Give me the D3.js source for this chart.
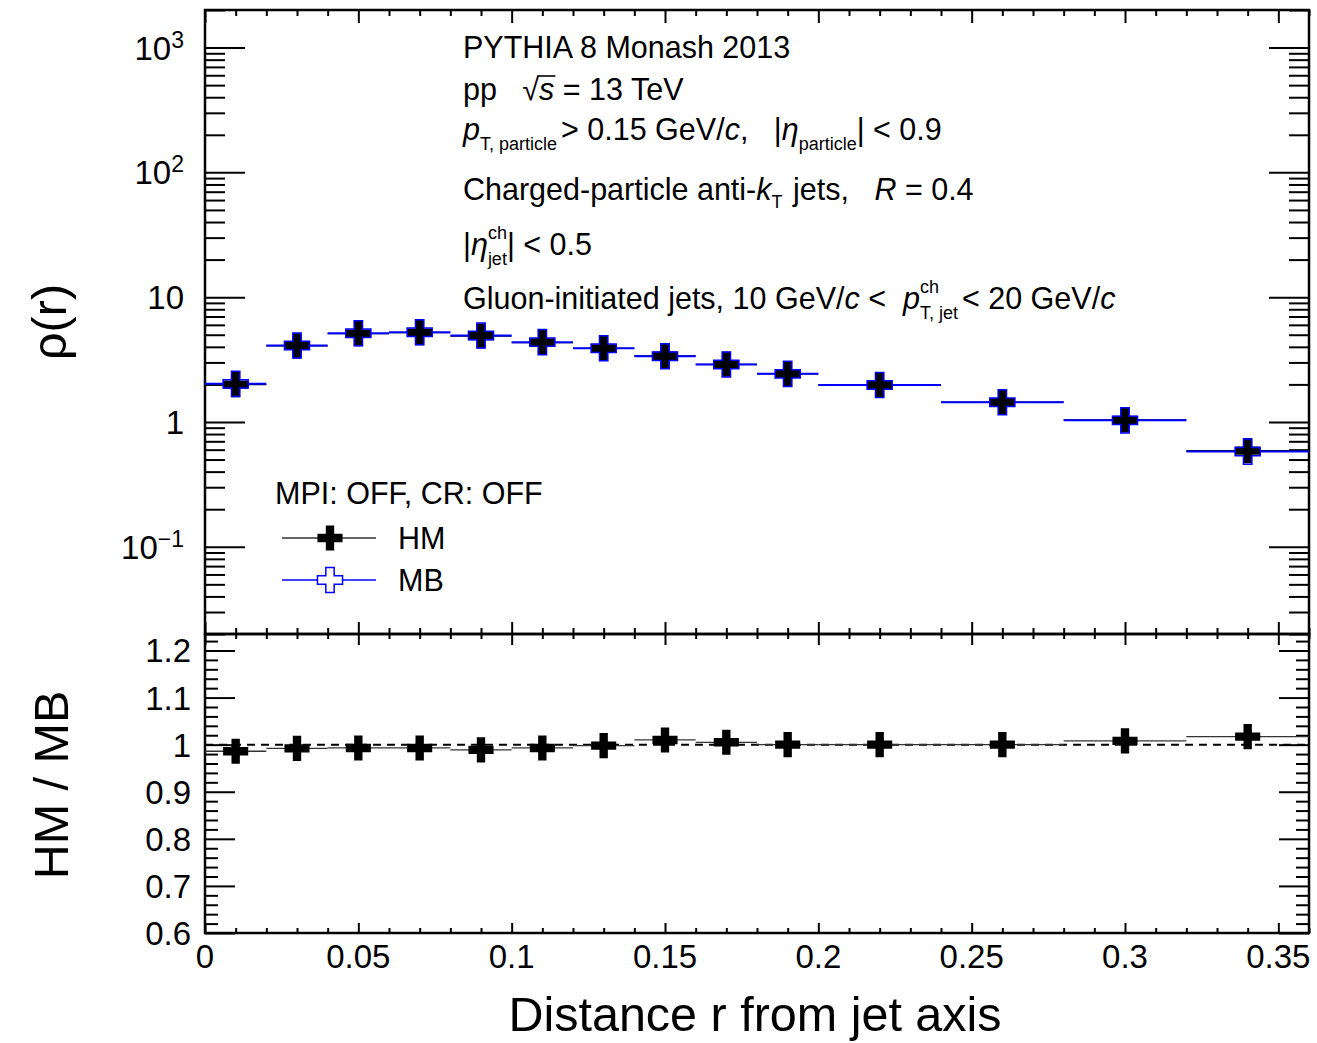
<!DOCTYPE html>
<html>
<head>
<meta charset="utf-8">
<script src="https://cdn.jsdelivr.net/npm/d3@7"></script>
<style>
  html, body { margin: 0; padding: 0; background: #fff; }
  svg { display: block; font-family: "Liberation Sans", Arial, Helvetica, sans-serif; }
  text { white-space: pre; fill: #000; }
</style>
</head>
<body>
<svg id="chart" width="1317" height="1043"></svg>
<script>
// Bin edges in r (distance from jet axis)
const binLow  = [0.00, 0.02, 0.04, 0.06, 0.08, 0.10, 0.12, 0.14, 0.16, 0.18, 0.20, 0.24, 0.28, 0.32];
const binHigh = [0.02, 0.04, 0.06, 0.08, 0.10, 0.12, 0.14, 0.16, 0.18, 0.20, 0.24, 0.28, 0.32, 0.36];

// rho(r) for minimum-bias (MB) and high-multiplicity (HM) events
const rhoMB = [2.02, 4.10, 5.14, 5.24, 4.93, 4.36, 3.90, 3.36, 2.89, 2.43, 1.98, 1.44, 1.03, 0.579];
const rhoHM = [1.99, 4.07, 5.10, 5.20, 4.88, 4.33, 3.89, 3.39, 2.90, 2.43, 1.98, 1.44, 1.04, 0.589];

// HM / MB ratio per bin
const ratioHMMB = [0.986, 0.992, 0.993, 0.993, 0.989, 0.993, 0.998, 1.010, 1.005, 1.000, 1.000, 1.000, 1.008, 1.017];

// Axis tick labels
const xTickLabels = ["0", "0.05", "0.1", "0.15", "0.2", "0.25", "0.3", "0.35"];
const xTickValues = [0, 0.05, 0.1, 0.15, 0.2, 0.25, 0.3, 0.35];
const logTickValues = [0.1, 1, 10, 100, 1000];
const logTickBase = ["10", "1", "10", "10", "10"];
const logTickExp  = ["\u22121", "", "", "2", "3"];
const ratioTickValues = [0.6, 0.7, 0.8, 0.9, 1.0, 1.1, 1.2];
const ratioTickLabels = ["0.6", "0.7", "0.8", "0.9", "1", "1.1", "1.2"];

const svg = d3.select("#chart");

// Panel geometry
const left = 205, right = 1309;
const topY0 = 10, topY1 = 634;     // upper panel
const ratY0 = 634, ratY1 = 933;    // ratio panel

const x = d3.scaleLinear().domain([0, 0.36]).range([left, right]);
const yTop = d3.scaleLog().domain([0.02, 2000]).range([topY1, topY0]);
const yRat = d3.scaleLinear().domain([0.6, 1.235]).range([ratY1, ratY0]);

const BLUE = "#0000ff";
const TICK_FS = 33, TEXT_FS = 30.5, TITLE_FS = 48.5;

// ---- tick helpers ----
function ticks(axisFn, scale, values, size, tx, ty) {
  const g = svg.append("g").attr("transform", `translate(${tx},${ty})`)
    .call(axisFn(scale).tickValues(values).tickSize(size).tickFormat(""));
  g.select(".domain").remove();
  g.selectAll(".tick line").attr("stroke", "#000").attr("stroke-width", 2);
  return g;
}

const xMinor = d3.range(0, 0.3601, 0.01).map(v => +v.toFixed(2)).filter(v => !xTickValues.some(m => Math.abs(m - v) < 1e-9));
const logMinor = yTop.ticks().filter(v => !logTickValues.some(m => Math.abs(m - v) / m < 1e-6));
const ratMinor = d3.range(0.6, 1.2351, 0.02).map(v => +v.toFixed(2)).filter(v => !ratioTickValues.some(m => Math.abs(m - v) < 1e-9));

// Upper panel ticks
ticks(d3.axisLeft, yTop, logTickValues, -40, left, 0);
ticks(d3.axisLeft, yTop, logMinor, -20, left, 0);
ticks(d3.axisRight, yTop, logTickValues, -40, right, 0);
ticks(d3.axisRight, yTop, logMinor, -20, right, 0);
ticks(d3.axisTop, x, xTickValues, -13, 0, topY0);
ticks(d3.axisTop, x, xMinor, -6, 0, topY0);
ticks(d3.axisBottom, x, xTickValues, -12, 0, topY1);
ticks(d3.axisBottom, x, xMinor, -6, 0, topY1);

// Ratio panel ticks
ticks(d3.axisLeft, yRat, ratioTickValues, -30, left, 0);
ticks(d3.axisLeft, yRat, ratMinor, -13, left, 0);
ticks(d3.axisRight, yRat, ratioTickValues, -30, right, 0);
ticks(d3.axisRight, yRat, ratMinor, -13, right, 0);
ticks(d3.axisTop, x, xTickValues, -11, 0, ratY0);
ticks(d3.axisTop, x, xMinor, -5, 0, ratY0);
ticks(d3.axisBottom, x, xTickValues, -10, 0, ratY1);
ticks(d3.axisBottom, x, xMinor, -5, 0, ratY1);

// Frames
svg.append("rect").attr("x", left).attr("y", topY0).attr("width", right - left).attr("height", topY1 - topY0)
  .attr("fill", "none").attr("stroke", "#000").attr("stroke-width", 2.5);
svg.append("rect").attr("x", left).attr("y", ratY0).attr("width", right - left).attr("height", ratY1 - ratY0)
  .attr("fill", "none").attr("stroke", "#000").attr("stroke-width", 2.5);

// ---- tick labels ----
const logLab = svg.append("g").selectAll("text").data(logTickValues).join("text")
  .attr("x", 184).attr("y", d => yTop(d) + 12)
  .attr("text-anchor", "end").attr("font-size", TICK_FS);
logLab.each(function (d, i) {
  const t = d3.select(this);
  t.append("tspan").text(logTickBase[i]);
  if (logTickExp[i]) t.append("tspan").attr("dy", -12).attr("font-size", 23).text(logTickExp[i]);
});

svg.append("g").selectAll("text").data(ratioTickValues).join("text")
  .attr("x", 191).attr("y", d => yRat(d) + 12)
  .attr("text-anchor", "end").attr("font-size", TICK_FS)
  .text((d, i) => ratioTickLabels[i]);

svg.append("g").selectAll("text").data(xTickValues).join("text")
  .attr("x", d => x(d)).attr("y", 968)
  .attr("text-anchor", "middle").attr("font-size", TICK_FS)
  .text((d, i) => xTickLabels[i]);

// ---- axis titles ----
svg.append("text").attr("transform", "translate(66,322) rotate(-90)")
  .attr("text-anchor", "middle").attr("font-size", TITLE_FS).text("\u03c1(r)");
svg.append("text").attr("transform", "translate(68,785) rotate(-90)")
  .attr("text-anchor", "middle").attr("font-size", TITLE_FS).text("HM / MB");
svg.append("text").attr("x", 755).attr("y", 1031)
  .attr("text-anchor", "middle").attr("font-size", TITLE_FS).text("Distance r from jet axis");

// ---- markers ----
const crossSize = 350;
const crossPath = d3.symbol(d3.symbolCross).size(crossSize)();

const bins = binLow.map((lo, i) => ({ lo, hi: binHigh[i], c: (lo + binHigh[i]) / 2, mb: rhoMB[i], hm: rhoHM[i], r: ratioHMMB[i] }));

const gTop = svg.append("g");
// horizontal bin-width bars
gTop.selectAll("line.hm").data(bins).join("line")
  .attr("x1", d => x(d.lo)).attr("x2", d => x(d.hi))
  .attr("y1", d => yTop(d.hm)).attr("y2", d => yTop(d.hm))
  .attr("stroke", "#000").attr("stroke-width", 1.2);
gTop.selectAll("line.mb").data(bins).join("line")
  .attr("x1", d => x(d.lo)).attr("x2", d => x(d.hi))
  .attr("y1", d => yTop(d.mb)).attr("y2", d => yTop(d.mb))
  .attr("stroke", BLUE).attr("stroke-width", 2);
gTop.selectAll("path.hm").data(bins).join("path")
  .attr("d", crossPath).attr("transform", d => `translate(${x(d.c)},${yTop(d.hm)})`)
  .attr("fill", "#000");
gTop.selectAll("path.mb").data(bins).join("path")
  .attr("d", crossPath).attr("transform", d => `translate(${x(d.c)},${yTop(d.mb)})`)
  .attr("fill", "none").attr("stroke", BLUE).attr("stroke-width", 1.5);

// ratio panel
const gRat = svg.append("g");
gRat.append("line").attr("x1", left).attr("x2", right).attr("y1", yRat(1)).attr("y2", yRat(1))
  .attr("stroke", "#000").attr("stroke-width", 2).attr("stroke-dasharray", "8,6");
gRat.selectAll("line.r").data(bins).join("line")
  .attr("x1", d => x(d.lo)).attr("x2", d => x(d.hi))
  .attr("y1", d => yRat(d.r)).attr("y2", d => yRat(d.r))
  .attr("stroke", "#333").attr("stroke-width", 1.3);
gRat.selectAll("path").data(bins).join("path")
  .attr("d", crossPath).attr("transform", d => `translate(${x(d.c)},${yRat(d.r)})`)
  .attr("fill", "#000");

// ---- legend ----
svg.append("text").attr("x", 275).attr("y", 504).attr("font-size", TEXT_FS).text("MPI: OFF, CR: OFF");
svg.append("line").attr("x1", 282).attr("x2", 376).attr("y1", 538).attr("y2", 538).attr("stroke", "#333").attr("stroke-width", 1.5);
svg.append("path").attr("d", crossPath).attr("transform", "translate(330,538)").attr("fill", "#000");
svg.append("text").attr("x", 398).attr("y", 549).attr("font-size", TEXT_FS).text("HM");
svg.append("line").attr("x1", 282).attr("x2", 376).attr("y1", 580).attr("y2", 580).attr("stroke", BLUE).attr("stroke-width", 1.5);
svg.append("path").attr("d", crossPath).attr("transform", "translate(330,580)").attr("fill", "#fff").attr("stroke", BLUE).attr("stroke-width", 1.5);
svg.append("text").attr("x", 398).attr("y", 591).attr("font-size", TEXT_FS).text("MB");

// ---- annotation block with sub/superscripts ----
function rich(x0, y, parts) {
  let cx = x0;
  const placed = [];
  parts.forEach(p => {
    const items = p.stack || [p];
    let adv = 0;
    items.forEach(q => {
      const t = svg.append("text")
        .attr("x", cx).attr("y", y + (q.dy || 0))
        .attr("font-size", q.s || TEXT_FS)
        .attr("font-style", q.i ? "italic" : "normal")
        .text(q.t);
      const w = t.node().getComputedTextLength();
      adv = Math.max(adv, w);
      placed.push({ x: cx, w, q });
    });
    cx += adv + (p.gap || 0);
  });
  return placed;
}

const SUB = 18;
rich(463, 58, [{ t: "PYTHIA 8 Monash 2013" }]);

const l2 = rich(463, 100, [{ t: "pp   " }, { t: "\u221a" }, { t: "s", i: true }, { t: " = 13 TeV" }]);
// overbar of the square root
{
  const sq = l2[1], s = l2[2];
  svg.append("line").attr("x1", sq.x + sq.w - 2).attr("x2", s.x + s.w + 1)
    .attr("y1", 100 - 24).attr("y2", 100 - 24).attr("stroke", "#000").attr("stroke-width", 1.6);
}

rich(463, 140, [
  { t: "p", i: true },
  { t: "T, particle", s: SUB, dy: 10, gap: 4 },
  { t: "> 0.15 GeV/" }, { t: "c", i: true }, { t: ",   |" },
  { t: "\u03b7", i: true },
  { t: "particle", s: SUB, dy: 10 },
  { t: "| < 0.9" }
]);

rich(463, 200, [
  { t: "Charged-particle anti-" }, { t: "k", i: true },
  { t: "T", s: SUB, dy: 8, gap: 2 },
  { t: " jets,   " }, { t: "R", i: true }, { t: " = 0.4" }
]);

rich(463, 255, [
  { t: "|" }, { t: "\u03b7", i: true },
  { stack: [{ t: "ch", s: SUB, dy: -16 }, { t: "jet", s: SUB, dy: 10 }] },
  { t: "| < 0.5" }
]);

rich(463, 309, [
  { t: "Gluon-initiated jets, 10 GeV/" }, { t: "c", i: true }, { t: " <  " },
  { t: "p", i: true },
  { stack: [{ t: "ch", s: SUB, dy: -16 }, { t: "T, jet", s: SUB, dy: 10 }], gap: 4 },
  { t: "< 20 GeV/" }, { t: "c", i: true }
]);
</script>
</body>
</html>
